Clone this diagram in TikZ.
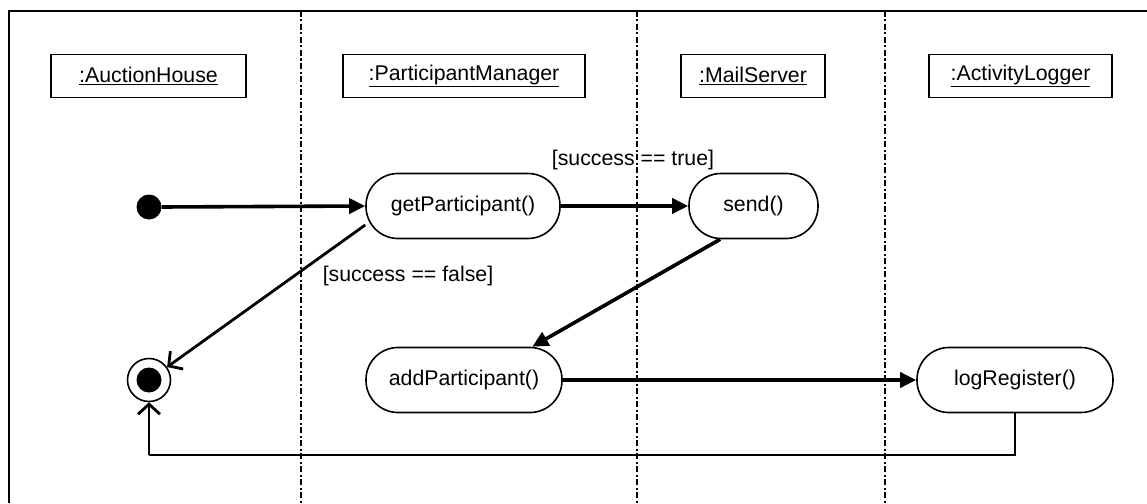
\documentclass[tikz,border=0pt]{standalone}
\usepackage{fontspec}
\setmainfont{Liberation Sans}
\usetikzlibrary{arrows.meta}
\tikzset{
  lane/.style={line width=2.4pt, dash pattern=on 6pt off 2.5pt on 2pt off 2.5pt},
  objbox/.style={draw, line width=1.8pt, inner sep=0pt, minimum height=43pt, font=\fontsize{21.3}{25}\selectfont},
  act/.style={draw, line width=1.6pt, rounded corners=32pt, inner sep=0pt, minimum height=65pt, font=\fontsize{21.3}{25}\selectfont},
  guard/.style={inner sep=0pt, font=\fontsize{21.3}{25}\selectfont},
  flow/.style={line width=3.6pt, -{Triangle[length=16pt,width=15pt]}},
  toend/.style={line width=2.8pt, -{Straight Barb[length=10pt,width=22pt]}},
}
\begin{document}
\begin{tikzpicture}[x=1pt,y=-1pt]
\useasboundingbox (0,0) rectangle (1147,503);
\fill[white] (0,0) rectangle (1147,503);
% frame
\draw[line width=2pt] (9,503) -- (9,11) -- (1147,11);
% swimlane dividers
\draw[lane] (301,11) -- (301,503);
\draw[lane] (637,11) -- (637,503);
\draw[lane] (885,11) -- (885,503);
% object boxes
\node[objbox, minimum width=195pt] (ah) at (148.5,76) {\underline{:AuctionHouse}};
\node[objbox, minimum width=242pt] (pm) at (464,76) {\underline{:ParticipantManager}};
\node[objbox, minimum width=144pt] (ms) at (753,76) {\underline{:MailServer}};
\node[objbox, minimum width=183pt] (al) at (1020.5,76) {\underline{:ActivityLogger}};
% initial and final
\node[circle, fill, inner sep=0pt, minimum size=25pt] (init) at (149,207) {};
\node[circle, draw, line width=1.6pt, inner sep=0pt, minimum size=43pt] (final) at (149,380) {};
\node[circle, fill, inner sep=0pt, minimum size=25pt] (finaldot) at (149,380) {};
% activities
\node[act, minimum width=194pt] (getp) at (463,206) {getParticipant()};
\node[act, minimum width=129pt] (send) at (753.5,206) {send()};
\node[act, minimum width=196pt] (add) at (464,380) {addParticipant()};
\node[act, minimum width=196pt] (logr) at (1015,380) {logRegister()};
% guards
\node[guard] (gtrue) at (633,160) {[success == true]};
\node[guard] (gfalse) at (408,276) {[success == false]};
% flows
\draw[flow] (init.east) -- (getp.west);
\draw[flow] (getp.east) -- (send.west);
\draw[flow] (send.225) -- (add.26);
\draw[flow] (add.east) -- (logr.west);
\draw[toend] (getp.191) -- (final);
\coordinate (ret) at (149,455);
\draw[line width=1.8pt] (logr.south) |- (ret);
\draw[toend] (ret) -- (final.south);
\end{tikzpicture}
\end{document}
